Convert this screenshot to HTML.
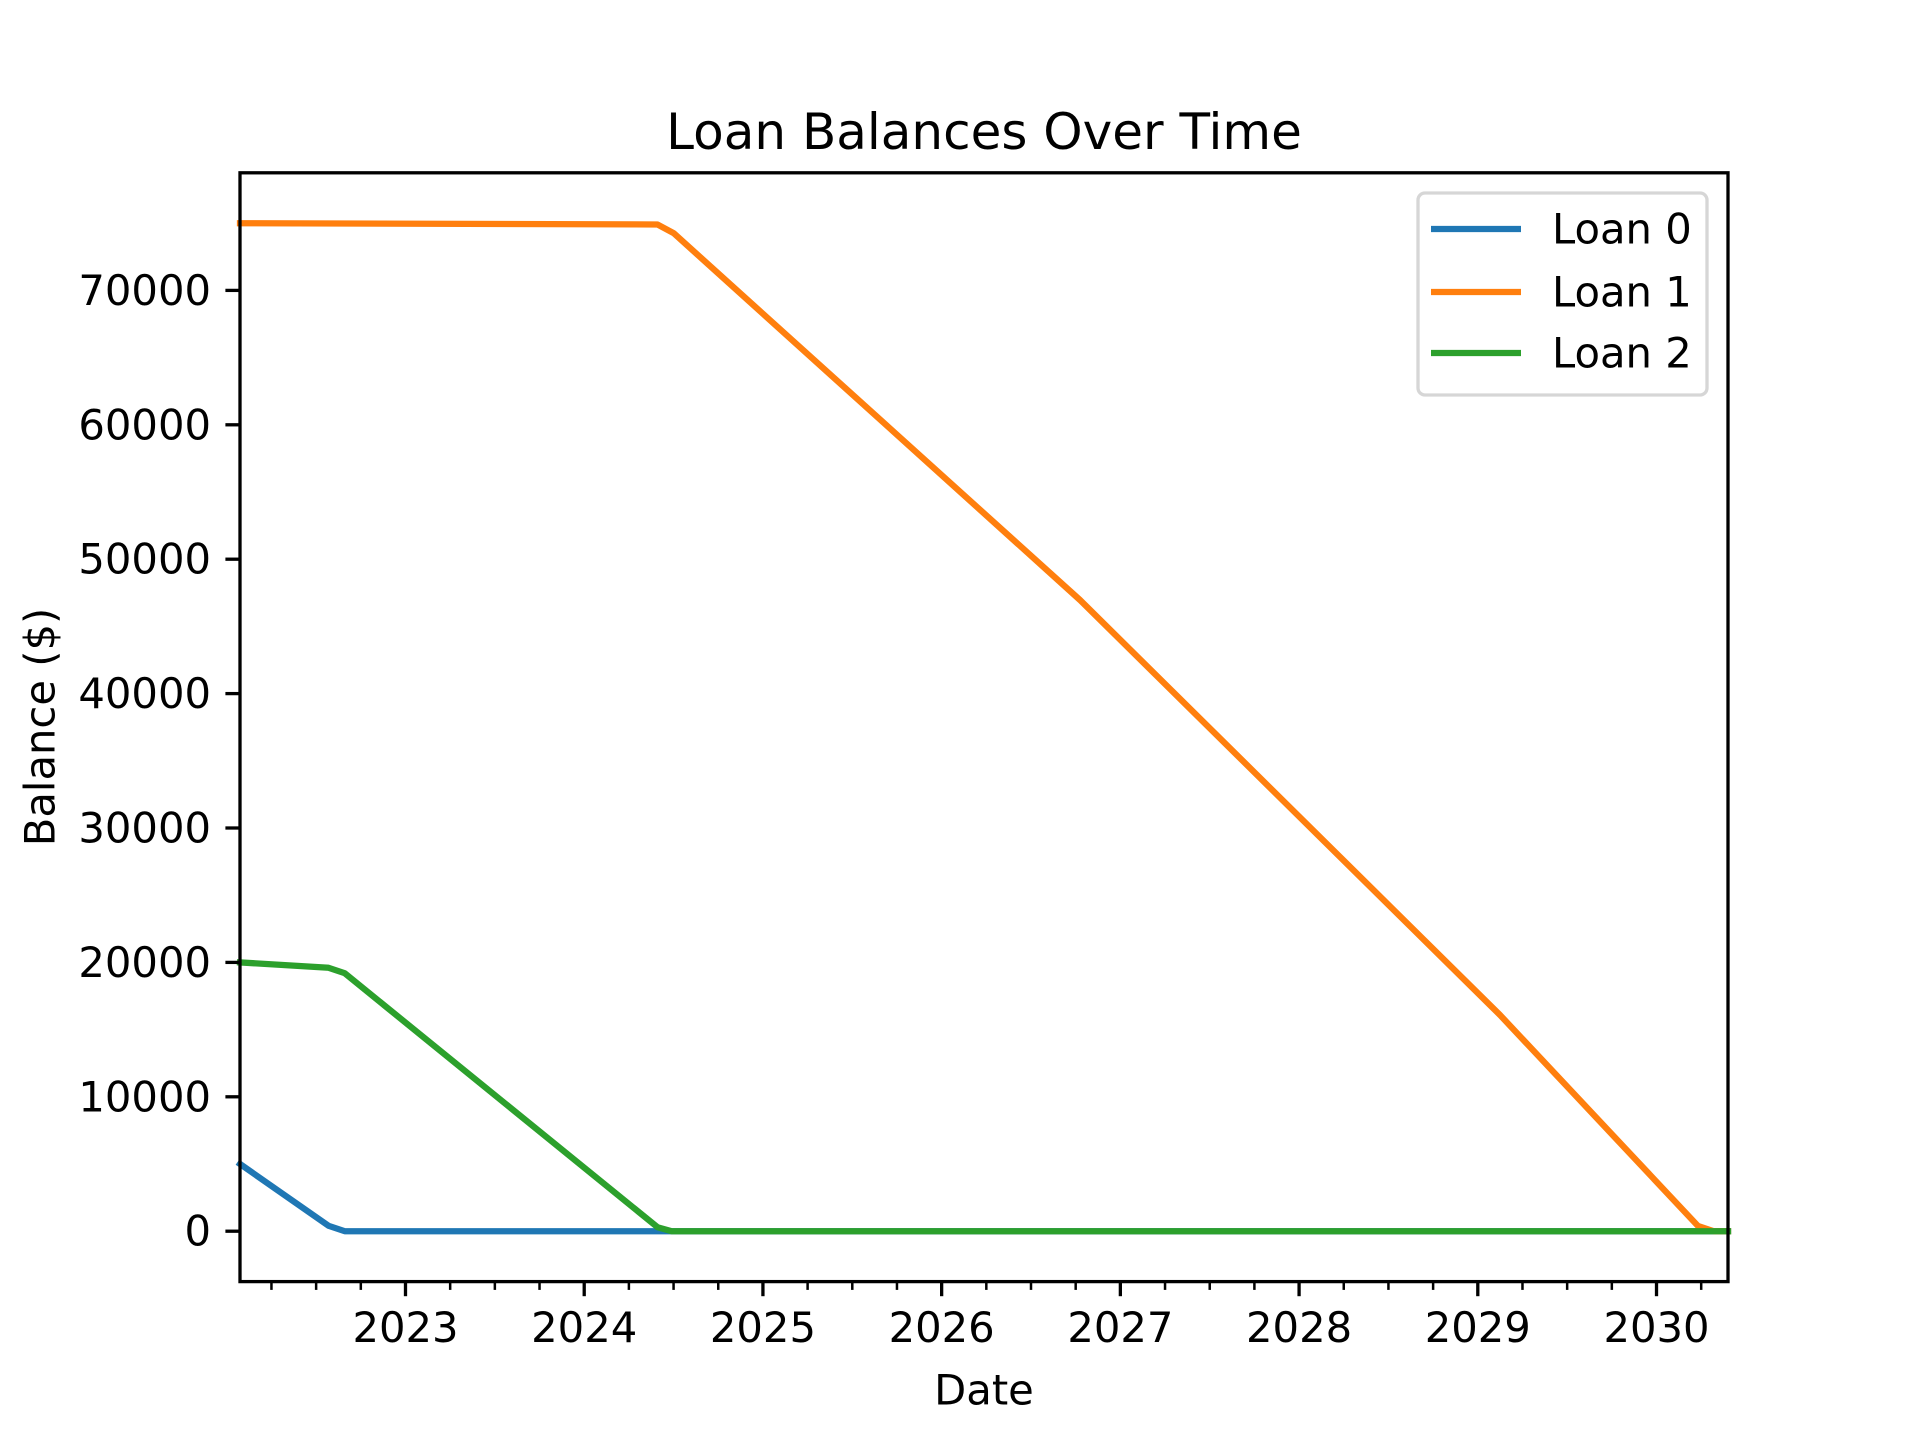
<!DOCTYPE html>
<html><head><meta charset="utf-8"><style>
html,body{margin:0;padding:0;background:#fff;}
svg{display:block;font-family:"DejaVu Sans","Liberation Sans",sans-serif;}
</style></head><body>
<svg id="chart" width="1920" height="1440" viewBox="0 0 1920 1440" xmlns="http://www.w3.org/2000/svg">
<rect width="1920" height="1440" fill="#fff"/>
<text x="984" y="132" font-size="50" text-anchor="middle" dominant-baseline="central">Loan Balances Over Time</text>
<g id="plot"></g>
<text x="984" y="1390" font-size="41.7" text-anchor="middle" dominant-baseline="central">Date</text>
<text x="40" y="727" font-size="41.7" text-anchor="middle" dominant-baseline="central" transform="rotate(-90 40 727)">Balance ($)</text>
<g>
<rect x="1418" y="193" width="289" height="202" rx="7" fill="#fff" fill-opacity="0.8" stroke="#d6d6d6" stroke-width="3.3"/>
<line x1="1431" y1="229" x2="1521" y2="229" stroke="#1f77b4" stroke-width="6.25"/>
<text x="1552" y="229" font-size="41.7" dominant-baseline="central">Loan 0</text>
<line x1="1431" y1="292" x2="1521" y2="292" stroke="#ff7f0e" stroke-width="6.25"/>
<text x="1552" y="292" font-size="41.7" dominant-baseline="central">Loan 1</text>
<line x1="1431" y1="353" x2="1521" y2="353" stroke="#2ca02c" stroke-width="6.25"/>
<text x="1552" y="353" font-size="41.7" dominant-baseline="central">Loan 2</text>
</g>
</svg>
<script>
const loan0Dates = [2022.074, 2022.57, 2022.66, 2030.40];
const loan0Values = [5000, 400, 0, 0];
const loan1Dates = [2022.074, 2024.41, 2024.50, 2026.774, 2029.124, 2030.232, 2030.32, 2030.40];
const loan1Values = [75000, 74900, 74260, 46965, 16086, 390, 0, 0];
const loan2Dates = [2022.074, 2022.57, 2022.66, 2024.41, 2024.49, 2030.40];
const loan2Values = [20000, 19600, 19200, 300, 0, 0];
const yTicks = [0, 10000, 20000, 30000, 40000, 50000, 60000, 70000];
const xTickYears = [2023, 2024, 2025, 2026, 2027, 2028, 2029, 2030];

const L = 240, R = 1728, T = 172.8, B = 1281.6;
const X0 = 2022.074, X1 = 2030.40, Y0 = -3750, Y1 = 78750;
const sx = v => L + (v - X0) / (X1 - X0) * (R - L);
const sy = v => B - (v - Y0) / (Y1 - Y0) * (B - T);
const NS = 'http://www.w3.org/2000/svg';
const g = document.getElementById('plot');
function mk(tag, attrs) { const e = document.createElementNS(NS, tag); for (const k in attrs) e.setAttribute(k, attrs[k]); g.appendChild(e); return e; }

const series = [[loan0Dates, loan0Values, '#1f77b4', 'line-loan-0'], [loan1Dates, loan1Values, '#ff7f0e', 'line-loan-1'], [loan2Dates, loan2Values, '#2ca02c', 'line-loan-2']];
series.forEach(s => {
  const pts = s[0].map((d, i) => sx(d).toFixed(1) + ',' + sy(s[1][i]).toFixed(1)).join(' ');
  const pl = mk('polyline', {points: pts, fill: 'none', stroke: s[2], 'stroke-width': 6.25, 'stroke-linejoin': 'round', 'stroke-linecap': 'square'});
  
  
});
const frame = mk('rect', {x: L, y: T, width: R - L, height: B - T, fill: 'none', stroke: '#000', 'stroke-width': 3.3});



yTicks.forEach(v => {
  const y = sy(v);
  const t = mk('line', {x1: L - 14.6, y1: y, x2: L, y2: y, stroke: '#000', 'stroke-width': 3.3});
  
  
  const tx = mk('text', {x: L - 29, y: y, 'font-size': 41.7, 'text-anchor': 'end', 'dominant-baseline': 'central'});
  tx.textContent = String(v);
  
  
});
for (let q = Math.ceil(X0 * 4); q <= Math.floor(X1 * 4); q++) {
  const v = q / 4;
  const major = q % 4 === 0;
  const x = sx(v);
  const t = mk('line', {x1: x, y1: B, x2: x, y2: B + (major ? 14.6 : 8.3), stroke: '#000', 'stroke-width': major ? 3.3 : 2.5});
  
  
}
xTickYears.forEach(v => {
  const tx = mk('text', {x: sx(v), y: B + 29, 'font-size': 41.7, 'text-anchor': 'middle', 'dominant-baseline': 'hanging'});
  tx.textContent = String(v);
  
  
});
</script>
</body></html>
